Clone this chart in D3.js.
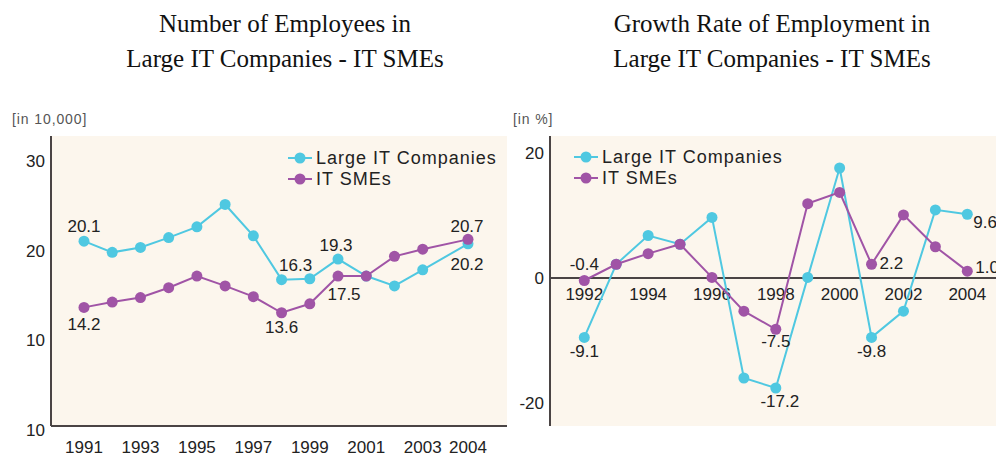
<!DOCTYPE html>
<html>
<head>
<meta charset="utf-8">
<script src="https://cdn.jsdelivr.net/npm/d3@7"></script>
<style>
    body { margin: 0; background: #fff; }
    .title { font-family: "Liberation Serif", "Times New Roman", serif; font-size: 25px; fill: #111; }
    .unit { font-family: "Liberation Sans", Arial, sans-serif; font-size: 14px; fill: #555; letter-spacing: 0.9px; }
    .tick text, .yearLabel, .note { font-family: "Liberation Sans", Arial, sans-serif; font-size: 17px; fill: #222; }
    .legendText { font-family: "Liberation Sans", Arial, sans-serif; font-size: 18px; fill: #222; letter-spacing: 1px; }
</style>
</head>
<body>
<script>
// Left chart: number of employees (in 10,000)
var leftYears = [1991, 1992, 1993, 1994, 1995, 1996, 1997, 1998, 1999, 2000, 2001, 2002, 2003, 2004];
var largeEmployees = [21.1, 19.85, 20.4, 21.5, 22.7, 25.2, 21.7, 16.8, 16.9, 19.1, 17.2, 16.1, 17.9, 20.8];
var smeEmployees = [13.7, 14.3, 14.8, 15.9, 17.2, 16.1, 14.9, 13.1, 14.1, 17.2, 17.2, 19.4, 20.2, 21.3];
var leftTickValues = [0, 10, 20, 30];
var leftTickLabels = ["10", "10", "20", "30"];
var leftYearLabels = [1991, 1993, 1995, 1997, 1999, 2001, 2003, 2004];
var leftNotes = [
    ["large", 1991, "20.1"], ["sme", 1991, "14.2"], ["sme", 1998, "13.6"],
    ["large", 1998, "16.3"], ["large", 2000, "19.3"], ["sme", 2000, "17.5"],
    ["sme", 2004, "20.7"], ["large", 2004, "20.2"]
];

// Right chart: growth rate of employment (%)
var rightYears = [1992, 1993, 1994, 1995, 1996, 1997, 1998, 1999, 2000, 2001, 2002, 2003, 2004];
var largeGrowth = [-9.5, 2.2, 6.8, 5.4, 9.7, -16.0, -17.6, 0.1, 17.6, -9.5, -5.3, 10.9, 10.2];
var smeGrowth = [-0.4, 2.2, 3.9, 5.4, 0.1, -5.3, -8.2, 11.9, 13.7, 2.2, 10.1, 5.0, 1.1];
var rightTickValues = [-20, 0, 20];
var rightTickLabels = ["-20", "0", "20"];
var rightYearLabels = [1992, 1994, 1996, 1998, 2000, 2002, 2004];
var rightNotes = [
    ["sme", 1992, "-0.4"], ["large", 1992, "-9.1"], ["sme", 1998, "-7.5"],
    ["large", 1998, "-17.2"], ["large", 2001, "-9.8"], ["sme", 2001, "2.2"],
    ["large", 2004, "9.6"], ["sme", 2004, "1.0"]
];

var seriesNames = ["Large IT Companies", "IT SMEs"];
var colors = { large: "#4fc8e1", sme: "#a054a6" };
var axisColor = "#4a4444";

var svg = d3.select("body")
    .append("svg")
    .attr("width", 996)
    .attr("height", 459);

// note placement, keyed by chart + series + year
var noteOffsets = {
    "L-large-1991": [0, -15, "middle"], "L-sme-1991": [0, 17, "middle"],
    "L-sme-1998": [0, 15, "middle"], "L-large-1998": [14, -14, "middle"],
    "L-large-2000": [-2, -14, "middle"], "L-sme-2000": [6, 18, "middle"],
    "L-sme-2004": [-1, -13, "middle"], "L-large-2004": [-1, 21, "middle"],
    "R-sme-1992": [0, -16, "middle"], "R-large-1992": [0, 14, "middle"],
    "R-sme-1998": [0, 12, "middle"], "R-large-1998": [4, 13, "middle"],
    "R-large-2001": [0, 14, "middle"], "R-sme-2001": [8, -1, "start"],
    "R-large-2004": [6, 8, "start"], "R-sme-2004": [8, -4, "start"]
};

function drawChart(opt) {
    var g = svg.append("g");

    // plot background
    g.append("rect")
        .attr("x", opt.left)
        .attr("y", opt.top)
        .attr("width", opt.right - opt.left)
        .attr("height", opt.bottom - opt.top)
        .attr("fill", "#fcf6ed");

    // title
    g.append("text").attr("class", "title")
        .attr("x", opt.titleX).attr("y", 32)
        .attr("text-anchor", "middle").text(opt.title[0]);
    g.append("text").attr("class", "title")
        .attr("x", opt.titleX).attr("y", 67)
        .attr("text-anchor", "middle").text(opt.title[1]);

    // unit label
    g.append("text").attr("class", "unit")
        .attr("x", opt.unitX).attr("y", 124)
        .text(opt.unit);

    // y axis tick labels
    var yAxis = d3.axisLeft(opt.y)
        .tickValues(opt.tickValues)
        .tickFormat(function(d, i) { return opt.tickLabels[i]; })
        .tickSize(0)
        .tickPadding(6);
    g.append("g")
        .attr("transform", "translate(" + opt.left + ",0)")
        .call(yAxis)
        .call(function(a) { a.select(".domain").remove(); });

    // axis lines
    g.append("line")
        .attr("x1", opt.left).attr("x2", opt.left)
        .attr("y1", opt.top).attr("y2", opt.bottom)
        .attr("stroke", axisColor).attr("stroke-width", 2);
    g.append("line")
        .attr("x1", opt.left).attr("x2", opt.right)
        .attr("y1", opt.baseY).attr("y2", opt.baseY)
        .attr("stroke", axisColor).attr("stroke-width", 2);

    // year labels
    g.selectAll(".yearLabel")
        .data(opt.yearLabels)
        .enter()
        .append("text")
        .attr("class", "yearLabel")
        .attr("x", function(d) { return opt.x(d); })
        .attr("y", opt.yearY)
        .attr("text-anchor", "middle")
        .attr("dominant-baseline", "central")
        .text(function(d) { return d; });

    // lines + points
    var line = d3.line()
        .x(function(d) { return opt.x(d[0]); })
        .y(function(d) { return opt.y(d[1]); });

    [["large", opt.large], ["sme", opt.sme]].forEach(function(s) {
        var pts = opt.years.map(function(yr, i) { return [yr, s[1][i]]; });
        g.append("path")
            .datum(pts)
            .attr("fill", "none")
            .attr("stroke", colors[s[0]])
            .attr("stroke-width", 2)
            .attr("d", line);
        g.selectAll(".dot-" + s[0])
            .data(pts)
            .enter()
            .append("circle")
            .attr("class", "dot-" + s[0])
            .attr("cx", function(d) { return opt.x(d[0]); })
            .attr("cy", function(d) { return opt.y(d[1]); })
            .attr("r", 5.5)
            .attr("fill", colors[s[0]]);
    });

    // value notes
    opt.notes.forEach(function(n) {
        var vals = n[0] === "large" ? opt.large : opt.sme;
        var v = vals[opt.years.indexOf(n[1])];
        var off = noteOffsets[opt.key + "-" + n[0] + "-" + n[1]];
        g.append("text")
            .attr("class", "note")
            .attr("x", opt.x(n[1]) + off[0])
            .attr("y", opt.y(v) + off[1])
            .attr("text-anchor", off[2])
            .attr("dominant-baseline", "central")
            .text(n[2]);
    });

    // legend
    ["large", "sme"].forEach(function(k, i) {
        var ly = opt.legendY + i * 21;
        g.append("line")
            .attr("x1", opt.legendX - 12).attr("x2", opt.legendX + 12)
            .attr("y1", ly).attr("y2", ly)
            .attr("stroke", colors[k]).attr("stroke-width", 2);
        g.append("circle")
            .attr("cx", opt.legendX).attr("cy", ly)
            .attr("r", 5.5).attr("fill", colors[k]);
        g.append("text")
            .attr("class", "legendText")
            .attr("x", opt.legendX + 16).attr("y", ly)
            .attr("dominant-baseline", "central")
            .text(seriesNames[i]);
    });
}

var leftY = d3.scaleLinear().domain([0, 30]).range([430, 161.5]);
drawChart({
    key: "L",
    left: 51, right: 507, top: 136, bottom: 426,
    baseY: 426, yearY: 447,
    title: ["Number of Employees in", "Large IT Companies - IT SMEs"],
    titleX: 285,
    unit: "[in 10,000]", unitX: 12,
    x: d3.scaleLinear().domain([1991, 2003, 2004]).range([84, 422.7, 468]),
    y: leftY,
    tickValues: leftTickValues, tickLabels: leftTickLabels,
    yearLabels: leftYearLabels,
    years: leftYears, large: largeEmployees, sme: smeEmployees,
    notes: leftNotes,
    legendX: 300, legendY: 158
});

var rightY = d3.scaleLinear().domain([-20, 20]).range([403, 153]);
drawChart({
    key: "R",
    left: 550, right: 996, top: 136, bottom: 426,
    baseY: rightY(0), yearY: rightY(0) + 16,
    title: ["Growth Rate of Employment in", "Large IT Companies - IT SMEs"],
    titleX: 772,
    unit: "[in %]", unitX: 513,
    x: d3.scaleLinear().domain([1992, 2004]).range([584.3, 967.3]),
    y: rightY,
    tickValues: rightTickValues, tickLabels: rightTickLabels,
    yearLabels: rightYearLabels,
    years: rightYears, large: largeGrowth, sme: smeGrowth,
    notes: rightNotes,
    legendX: 586, legendY: 157
});
</script>
</body>
</html>
